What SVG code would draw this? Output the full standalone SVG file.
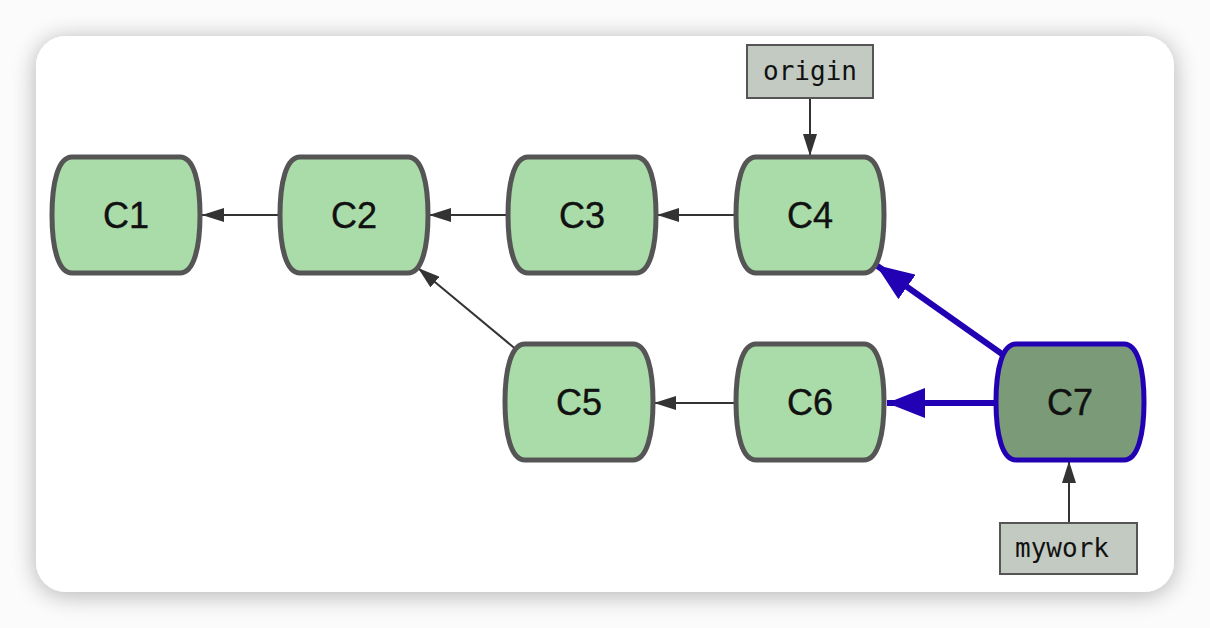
<svg xmlns="http://www.w3.org/2000/svg" width="1210" height="628" viewBox="0 0 1210 628">
<defs>
<filter id="sh" x="-10%" y="-10%" width="120%" height="120%">
<feGaussianBlur in="SourceAlpha" stdDeviation="12"/>
<feOffset dy="3"/>
<feComponentTransfer><feFuncA type="linear" slope="0.3"/></feComponentTransfer>
<feMerge><feMergeNode/><feMergeNode in="SourceGraphic"/></feMerge>
</filter>
<marker id="ah" viewBox="0 0 22 14" refX="22" refY="7" markerWidth="22" markerHeight="14" markerUnits="userSpaceOnUse" orient="auto">
<path d="M0,0 L22,7 L0,14 Z" fill="#333"/>
</marker>
<marker id="ab" viewBox="0 0 38 30" refX="38" refY="15" markerWidth="38" markerHeight="30" markerUnits="userSpaceOnUse" orient="auto">
<path d="M0,0 L38,15 L0,30 Z" fill="#2200b4"/>
</marker>
<path id="shape" d="M-54,-58 H54 C68,-58 74,-32 74,0 C74,32 68,58 54,58 H-54 C-68,58 -74,32 -74,0 C-74,-32 -68,-58 -54,-58 Z"/>
</defs>
<style>
.n{fill:#aadcaa;stroke:#555;stroke-width:5}
.h{fill:#7a9a78;stroke:#2200b4;stroke-width:5}
.t{font-family:"Liberation Sans",Arial,sans-serif;font-size:36px;fill:#111;stroke:#111;stroke-width:0.4;text-anchor:middle}
.lb{fill:#c2cac2;stroke:#555;stroke-width:2}
.lt{font-family:"DejaVu Sans Mono","Liberation Mono",monospace;font-size:26px;fill:#111;text-anchor:middle}
.c{stroke:#333;stroke-width:2;fill:none;marker-end:url(#ah)}
.b{stroke:#2200b4;stroke-width:6;fill:none;marker-end:url(#ab)}
</style>
<rect width="1210" height="628" fill="#fbfbfb"/>
<rect x="36" y="36" width="1138" height="556" rx="30" fill="#fff" filter="url(#sh)"/>
<g id="connectors">
<line class="c" x1="281" y1="215" x2="202" y2="215"/>
<line class="c" x1="509" y1="215" x2="429" y2="215"/>
<line class="c" x1="737" y1="215" x2="657" y2="215"/>
<line class="c" x1="518" y1="351" x2="418" y2="268"/>
<line class="c" x1="737" y1="403" x2="654" y2="403"/>
<line class="c" x1="810" y1="98" x2="810" y2="156"/>
<line class="c" x1="1069" y1="523" x2="1069" y2="461"/>
<line class="b" x1="1002" y1="354" x2="876" y2="265"/>
<line class="b" x1="997" y1="403" x2="887" y2="403"/>
</g>
<g id="C1"><use href="#shape" class="n" transform="translate(126,215)"/><text class="t" x="126" y="228">C1</text></g>
<g id="C2"><use href="#shape" class="n" transform="translate(354,215)"/><text class="t" x="354" y="228">C2</text></g>
<g id="C3"><use href="#shape" class="n" transform="translate(582,215)"/><text class="t" x="582" y="228">C3</text></g>
<g id="C4"><use href="#shape" class="n" transform="translate(810,215)"/><text class="t" x="810" y="228">C4</text></g>
<g id="C5"><use href="#shape" class="n" transform="translate(579,402)"/><text class="t" x="579" y="415">C5</text></g>
<g id="C6"><use href="#shape" class="n" transform="translate(810,402)"/><text class="t" x="810" y="415">C6</text></g>
<g id="C7"><use href="#shape" class="h" transform="translate(1070,402)"/><text class="t" x="1070" y="415">C7</text></g>
<g id="origin"><rect class="lb" x="747" y="45" width="126" height="53"/><text class="lt" x="810" y="80">origin</text></g>
<g id="mywork"><rect class="lb" x="1000" y="523" width="137" height="51"/><text class="lt" x="1062" y="557">mywork</text></g>
</svg>
